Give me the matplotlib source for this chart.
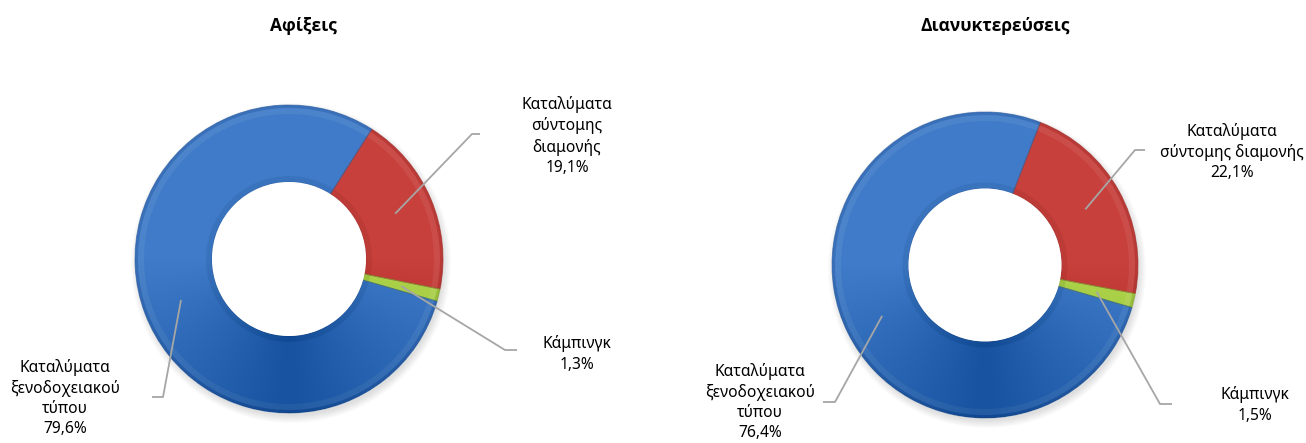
import numpy as np
import matplotlib.pyplot as plt
from matplotlib.patches import Wedge, Circle

# data (percent shares)
categories = ['Καταλύματα\nσύντομης\nδιαμονής', 'Κάμπινγκ', 'Καταλύματα\nξενοδοχειακού\nτύπου']
arrivals = [19.1, 1.3, 79.6]
nights = [22.1, 1.5, 76.4]
titles = ['Αφίξεις', 'Διανυκτερεύσεις']

colors = ['#C8403C', '#B0D64E', '#3F7BC8']
dark = ['#9E2F2C', '#7FA232', '#2E5E9E']

plt.rcParams['font.family'] = ['Noto Sans', 'DejaVu Sans']

W, H = 1306, 443
fig = plt.figure(figsize=(W / 100, H / 100), dpi=100)
ax = fig.add_axes([0, 0, 1, 1])


def donut(values, cx, cy, r, start, labels, label_pos, elbows, title, title_x):
    cy = H - cy
    # soft shadow
    for k in range(8):
        ax.add_patch(Circle((cx + 2, cy - 4), r + 6 - k, facecolor='k', alpha=0.016, lw=0))
    width = r * 0.5
    wedges, _ = ax.pie(values, center=(cx, cy), radius=r, startangle=start,
                       counterclock=False, colors=colors,
                       wedgeprops=dict(width=width, edgecolor='none'),
                       frame=True)
    # bevel-like shading
    for w, d in zip(wedges, dark):
        t1, t2 = w.theta1, w.theta2
        ax.add_patch(Wedge((cx, cy), r, t1, t2, width=3, facecolor=d, alpha=0.35, lw=0))
        ax.add_patch(Wedge((cx, cy), r - 3, t1, t2, width=6, facecolor='white', alpha=0.07, lw=0))
        ax.add_patch(Wedge((cx, cy), r - width + 6, t1, t2, width=6, facecolor=d, alpha=0.25, lw=0))
        ax.add_patch(Wedge((cx, cy), r, t1, t2, width=width, facecolor='none',
                           edgecolor=d, lw=0.7, alpha=0.6))
    # darker lower half gradient
    for k in range(40):
        ax.add_patch(Wedge((cx, cy), r, 180 + 2.2 * k, 360 - 2.2 * k, width=width,
                           facecolor='#000', alpha=0.002, lw=0))
    ax.add_patch(Circle((cx, cy), r - width, facecolor='white', lw=0))
    # labels + leader lines
    for w, v, lab, (lx, ly), (ex, ey, hx) in zip(wedges, values, labels, label_pos, elbows):
        mid = np.deg2rad((w.theta1 + w.theta2) / 2)
        rm = r - width / 2
        px, py = cx + rm * np.cos(mid), cy + rm * np.sin(mid)
        ax.plot([px, ex, hx], [py, H - ey, H - ey], color='#A6A6A6', lw=1.3,
                solid_capstyle='butt')
        txt = lab + '\n' + f'{v:.1f}%'.replace('.', ',')
        ax.text(lx, H - ly, txt, ha='center', va='center', fontsize=11.2,
                linespacing=1.35, color='#000000')
    ax.text(title_x, H - 26, title, ha='center', va='center', fontsize=12.5,
            fontweight='bold', family=['Open Sans', 'DejaVu Sans'])


donut(arrivals, 289, 259, 154, 90 - 32.5, categories,
      [(567, 136), (577, 354), (65, 398)],
      [(472, 134, 480), (505, 350, 517), (163, 397, 152)],
      titles[0], 303)

labels_r = ['Καταλύματα\nσύντομης διαμονής', 'Κάμπινγκ', 'Καταλύματα\nξενοδοχειακού\nτύπου']
donut(nights, 985, 265, 153, 90 - 21.2, labels_r,
      [(1232, 152), (1255, 405), (760, 402)],
      [(1135, 150, 1145), (1160, 404, 1172), (835, 402, 823)],
      titles[1], 995)

ax.set_xlim(0, W)
ax.set_ylim(0, H)
ax.set_aspect('equal')
ax.axis('off')

fig.savefig('out.png', dpi=100)
